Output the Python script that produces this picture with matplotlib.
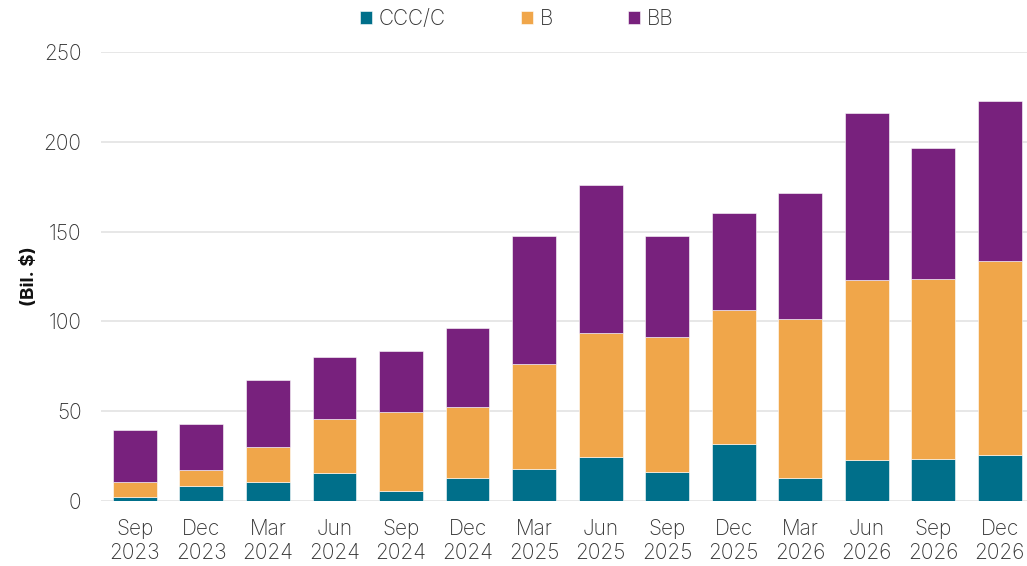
import matplotlib
matplotlib.use("Agg")
import matplotlib.pyplot as plt
import numpy as np

categories = ["Sep\n2023", "Dec\n2023", "Mar\n2024", "Jun\n2024", "Sep\n2024", "Dec\n2024",
              "Mar\n2025", "Jun\n2025", "Sep\n2025", "Dec\n2025", "Mar\n2026", "Jun\n2026",
              "Sep\n2026", "Dec\n2026"]
ccc = [2.2, 8.4, 10.6, 15.6, 5.8, 12.8, 17.8, 24.5, 16.2, 31.6, 13.0, 22.7, 23.2, 25.5]
b_cum = [10.4, 17.1, 29.9, 45.5, 49.8, 52.2, 76.2, 93.5, 91.6, 106.3, 101.1, 123.0, 123.6, 133.8]
total = [39.7, 42.9, 67.3, 80.1, 83.6, 96.3, 147.7, 176.0, 147.7, 160.4, 171.5, 215.9, 196.4, 222.6]
b = [bc - c for bc, c in zip(b_cum, ccc)]
bb = [t - bc for t, bc in zip(total, b_cum)]

plt.rcParams['font.family'] = ['Inter', 'DejaVu Sans']
text_color = '#333333'

fig = plt.figure(figsize=(10.27, 5.66), dpi=100)
ax = fig.add_axes([0.0983, 0.1148, 0.9017, 0.7932])

x = np.arange(len(categories))
w = 0.66
c1, c2, c3 = '#006F8A', '#F0A64A', '#78217D'
ax.bar(x, ccc, w, color=c1, label='CCC/C', edgecolor='#ffffff', linewidth=0.4, zorder=3)
ax.bar(x, b, w, bottom=ccc, color=c2, label='B', edgecolor='#ffffff', linewidth=0.4, zorder=3)
ax.bar(x, bb, w, bottom=b_cum, color=c3, label='BB', edgecolor='#ffffff', linewidth=0.4, zorder=3)

yticks = [0, 50, 100, 150, 200, 250]
ax.set_ylim(0, 250)
ax.set_xlim(-0.51, 13.41)
ax.set_yticks(yticks)
ax.set_xticks(x)
ax.set_xticklabels(categories, fontweight='light', linespacing=1.25)
ax.set_yticklabels([str(v) for v in yticks], fontweight='light')
ax.tick_params(axis='both', length=0, labelsize=15, colors=text_color)
ax.tick_params(axis='x', pad=13)
ax.tick_params(axis='y', pad=14)
for s in ax.spines.values():
    s.set_visible(False)
ax.yaxis.grid(True, color='#e3e3e3', linewidth=1.2, zorder=0)
ax.set_axisbelow(True)
ax.set_ylabel('(Bil. $)', fontsize=13.5, fontweight='bold', color='#111111', labelpad=4)

handles, labels = ax.get_legend_handles_labels()
leg = fig.legend(handles, labels, loc='center', bbox_to_anchor=(0.503, 0.967), ncol=3, frameon=False,
                 handlelength=0.6, handleheight=0.6, handletextpad=0.3,
                 columnspacing=3.6, labelcolor=text_color, prop={'weight': 'light', 'size': 15})

fig.savefig('out.png', dpi=100)
